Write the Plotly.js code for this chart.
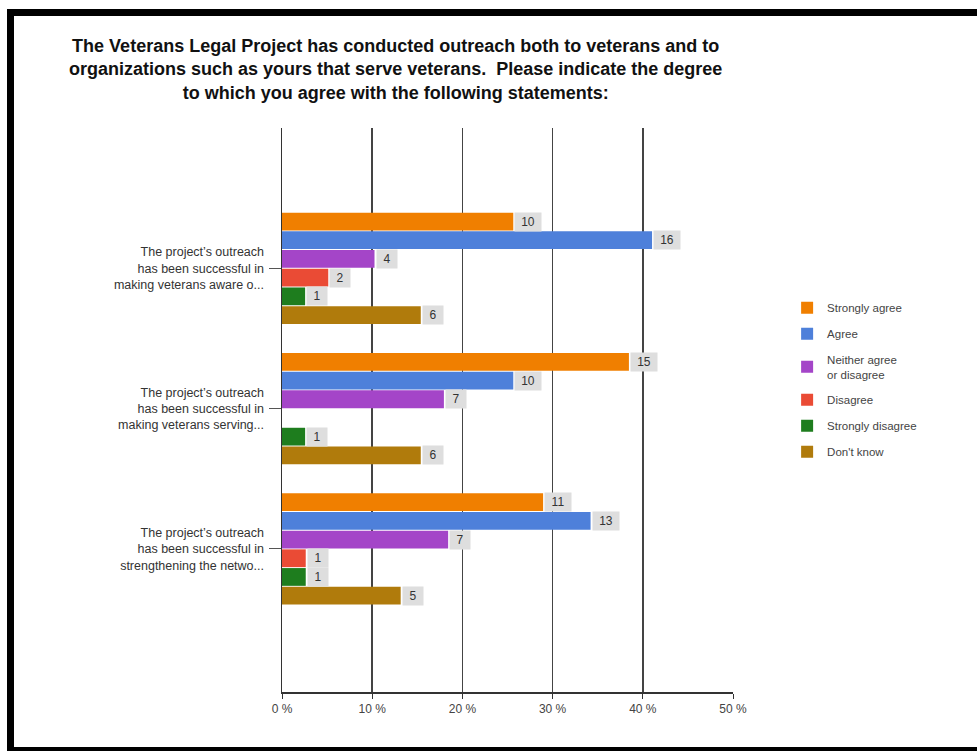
<!DOCTYPE html>
<html>
<head>
<meta charset="utf-8">
<script src="https://cdn.plot.ly/plotly-3.0.1.min.js"></script>
<style>
  html, body { margin: 0; padding: 0; background: #fff; }
  #chart { position: absolute; left: 0; top: 0; width: 977px; height: 751px; }
  .frame { position: absolute; background: #000; pointer-events: none; }
</style>
</head>
<body>
<div id="chart"></div>
<div class="frame" style="left:7px; top:9px; width:970px; height:7px;"></div>
<div class="frame" style="left:7px; top:9px; width:7px; height:742px;"></div>
<div class="frame" style="left:7px; top:747px; width:970px; height:4px;"></div>
<script>
// ---- data ----
const questions = [
  "The project\u2019s outreach<br>has been successful in<br>making veterans aware o...",
  "The project\u2019s outreach<br>has been successful in<br>making veterans serving...",
  "The project\u2019s outreach<br>has been successful in<br>strengthening the netwo..."
];
const seriesNames = ["Strongly agree", "Agree", "Neither agree<br>or disagree", "Disagree", "Strongly disagree", "Don't know"];
const stronglyAgree    = [10, 15, 11];
const agree            = [16, 10, 13];
const neither          = [4, 7, 7];
const disagree         = [2, 0, 1];
const stronglyDisagree = [1, 1, 1];
const dontKnow         = [6, 6, 5];
const xTickVals = [0, 10, 20, 30, 40, 50];
const xTickText = ["0 %", "10 %", "20 %", "30 %", "40 %", "50 %"];

// ---- style ----
const colors = ["#F07F00", "#4E80DA", "#A445C8", "#EA4B35", "#1E7D1E", "#B07B0C"];
const counts = [stronglyAgree, agree, neither, disagree, stronglyDisagree, dontKnow];
const totals = questions.map((q, j) => counts.reduce((s, arr) => s + arr[j], 0));
const pct = counts.map(arr => arr.map((v, j) => v / totals[j] * 100));

const M = {l: 282, r: 244, t: 128, b: 59};
const plotH = 751 - M.t - M.b;
const yRange = [3.02, -1.0];
const bargap = 0.2;
const catPx = plotH / Math.abs(yRange[0] - yRange[1]);
const slot = catPx * (1 - bargap) / counts.length;
const FONT = 'Liberation Sans, Arial, sans-serif';

const traces = counts.map((arr, i) => ({
  type: 'bar',
  orientation: 'h',
  name: seriesNames[i],
  legendgroup: 'g' + i,
  y: questions,
  x: pct[i],
  marker: {color: colors[i]},
  hoverinfo: 'skip'
}));

const annotations = [];
counts.forEach((arr, i) => {
  arr.forEach((v, j) => {
    if (v === 0) return;
    annotations.push({
      x: pct[i][j], y: questions[j], xref: 'x', yref: 'y',
      text: String(v), showarrow: false,
      xanchor: 'left', yanchor: 'middle',
      xshift: 1, yshift: -(i - (counts.length - 1) / 2) * slot,
      bgcolor: '#DEDEDE', borderpad: 3, width: String(v).length > 1 ? 20 : 14, height: 12,
      font: {family: FONT, size: 12, color: '#333'}
    });
  });
});

const layout = {
  width: 977, height: 751,
  margin: M,
  paper_bgcolor: '#fff', plot_bgcolor: '#fff',
  barmode: 'group', bargap: bargap, bargroupgap: 0.05,
  title: {
    text: "The Veterans Legal Project has conducted outreach both to veterans and to<br>organizations such as yours that serve veterans.&nbsp; Please indicate the degree<br>to which you agree with the following statements:",
    font: {family: FONT, size: 18, color: '#111', weight: 'bold'},
    x: 0.405, xanchor: 'center', y: 1 - 52 / 751, yanchor: 'top'
  },
  xaxis: {
    range: [0, 50], tickmode: 'array', tickvals: xTickVals, ticktext: xTickText,
    showgrid: true, gridcolor: '#444', gridwidth: 1.5,
    showline: true, linecolor: '#333', linewidth: 1.5,
    ticks: 'outside', ticklen: 5, tickcolor: '#333',
    zeroline: false, fixedrange: true,
    tickfont: {family: FONT, size: 12, color: '#444'}
  },
  yaxis: {
    type: 'category', range: yRange,
    showline: true, linecolor: '#333', linewidth: 1.5,
    ticks: 'outside', ticklen: 12, tickcolor: '#555', ticklabelstandoff: 2,
    showgrid: false, fixedrange: true,
    tickfont: {family: FONT, size: 12.5, color: '#333'}
  },
  legend: {
    x: 1.12, xanchor: 'left', y: 0.707, yanchor: 'top',
    traceorder: 'grouped',
    font: {family: FONT, size: 11.5, color: '#444'},
    bgcolor: 'rgba(0,0,0,0)', tracegroupgap: 7
  },
  annotations: annotations,
  showlegend: true
};

Plotly.newPlot('chart', traces, layout, {displayModeBar: false, staticPlot: true});
</script>
</body>
</html>
